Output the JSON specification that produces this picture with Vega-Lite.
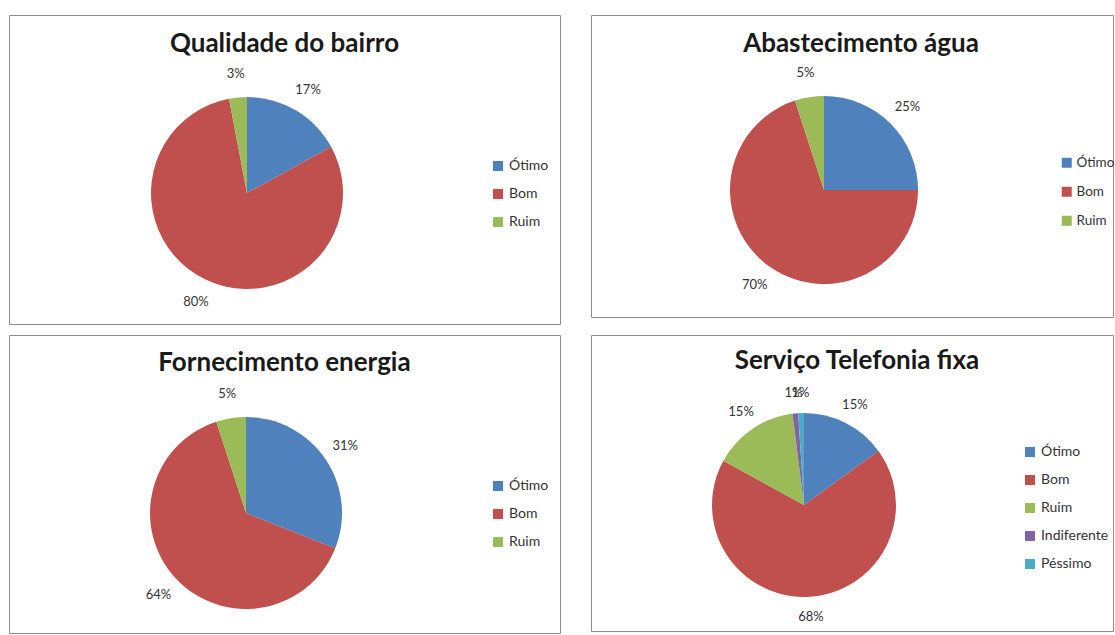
{
  "$schema": "https://vega.github.io/schema/vega-lite/v6.json",
  "background": "white",
  "padding": {"left": 8, "top": 14, "right": 1, "bottom": 0},
  "datasets": {
    "qualidade": [
      {"categoria": "Ótimo", "pct": 0.17, "k": 1},
      {"categoria": "Bom", "pct": 0.80, "k": 2},
      {"categoria": "Ruim", "pct": 0.03, "k": 3}
    ],
    "agua": [
      {"categoria": "Ótimo", "pct": 0.25, "k": 1},
      {"categoria": "Bom", "pct": 0.70, "k": 2},
      {"categoria": "Ruim", "pct": 0.05, "k": 3}
    ],
    "energia": [
      {"categoria": "Ótimo", "pct": 0.31, "k": 1},
      {"categoria": "Bom", "pct": 0.64, "k": 2},
      {"categoria": "Ruim", "pct": 0.05, "k": 3}
    ],
    "telefonia": [
      {"categoria": "Ótimo", "pct": 0.15, "k": 1},
      {"categoria": "Bom", "pct": 0.68, "k": 2},
      {"categoria": "Ruim", "pct": 0.15, "k": 3},
      {"categoria": "Indiferente", "pct": 0.01, "k": 4},
      {"categoria": "Péssimo", "pct": 0.01, "k": 5}
    ]
  },
  "spacing": 9,
  "resolve": {"scale": {"color": "independent", "theta": "independent"}, "legend": {"color": "independent"}},
  "vconcat": [
    {
      "spacing": 29,
      "resolve": {"scale": {"color": "independent", "theta": "independent"}, "legend": {"color": "independent"}},
      "hconcat": [
        {
          "width": 551, "height": 309,
          "view": {"stroke": "#8c8c8c", "strokeWidth": 1},
          "data": {"name": "qualidade"},
          "title": {"text": "Qualidade do bairro", "offset": -42},
          "encoding": {
            "theta": {"field": "pct", "type": "quantitative", "stack": true},
            "order": {"field": "k", "type": "quantitative"},
            "color": {"field": "categoria", "type": "nominal",
              "scale": {"domain": ["Ótimo", "Bom", "Ruim"], "range": ["#4F81BD", "#C0504D", "#9BBB59"]},
              "legend": {"orient": "none", "legendX": 482, "legendY": 144}}
          },
          "layer": [
            {"mark": {"type": "arc", "outerRadius": 96, "x": 238, "y": 178}},
            {"mark": {"type": "text", "radius": 120, "x": 238, "y": 178, "font": "Lato", "fontSize": 13, "fill": "#333333"},
             "encoding": {"text": {"field": "pct", "type": "quantitative", "format": ".0%"}, "color": {"value": "#333333"}}}
          ]
        },
        {
          "width": 522, "height": 302,
          "view": {"stroke": "#8c8c8c", "strokeWidth": 1},
          "data": {"name": "agua"},
          "title": {"text": "Abastecimento água", "offset": -42, "dx": 9},
          "encoding": {
            "theta": {"field": "pct", "type": "quantitative", "stack": true},
            "order": {"field": "k", "type": "quantitative"},
            "color": {"field": "categoria", "type": "nominal",
              "scale": {"domain": ["Ótimo", "Bom", "Ruim"], "range": ["#4F81BD", "#C0504D", "#9BBB59"]},
              "legend": {"orient": "none", "legendX": 469, "legendY": 141, "labelFontSize": 13.5, "labelOffset": 3}}
          },
          "layer": [
            {"mark": {"type": "arc", "outerRadius": 94, "x": 233, "y": 175}},
            {"mark": {"type": "text", "radius": 118, "x": 233, "y": 175, "font": "Lato", "fontSize": 13, "fill": "#333333"},
             "encoding": {"text": {"field": "pct", "type": "quantitative", "format": ".0%"}, "color": {"value": "#333333"}}}
          ]
        }
      ]
    },
    {
      "spacing": 29,
      "resolve": {"scale": {"color": "independent", "theta": "independent"}, "legend": {"color": "independent"}},
      "hconcat": [
        {
          "width": 551, "height": 298,
          "view": {"stroke": "#8c8c8c", "strokeWidth": 1},
          "data": {"name": "energia"},
          "title": {"text": "Fornecimento energia", "offset": -41},
          "encoding": {
            "theta": {"field": "pct", "type": "quantitative", "stack": true},
            "order": {"field": "k", "type": "quantitative"},
            "color": {"field": "categoria", "type": "nominal",
              "scale": {"domain": ["Ótimo", "Bom", "Ruim"], "range": ["#4F81BD", "#C0504D", "#9BBB59"]},
              "legend": {"orient": "none", "legendX": 482, "legendY": 144}}
          },
          "layer": [
            {"mark": {"type": "arc", "outerRadius": 96, "x": 237, "y": 178}},
            {"mark": {"type": "text", "radius": 120, "x": 237, "y": 178, "font": "Lato", "fontSize": 13, "fill": "#333333"},
             "encoding": {"text": {"field": "pct", "type": "quantitative", "format": ".0%"}, "color": {"value": "#333333"}}}
          ]
        },
        {
          "width": 522, "height": 296,
          "view": {"stroke": "#8c8c8c", "strokeWidth": 1},
          "data": {"name": "telefonia"},
          "title": {"text": "Serviço Telefonia fixa", "offset": -39, "dx": 5},
          "encoding": {
            "theta": {"field": "pct", "type": "quantitative", "stack": true},
            "order": {"field": "k", "type": "quantitative"},
            "color": {"field": "categoria", "type": "nominal",
              "scale": {"domain": ["Ótimo", "Bom", "Ruim", "Indiferente", "Péssimo"], "range": ["#4F81BD", "#C0504D", "#9BBB59", "#8064A2", "#4BACC6"]},
              "legend": {"orient": "none", "legendX": 432, "legendY": 110}}
          },
          "layer": [
            {"mark": {"type": "arc", "outerRadius": 92, "x": 213, "y": 170}},
            {"mark": {"type": "text", "radius": 112, "x": 213, "y": 170, "font": "Lato", "fontSize": 13, "fill": "#333333"},
             "encoding": {"text": {"field": "pct", "type": "quantitative", "format": ".0%"}, "color": {"value": "#333333"}}}
          ]
        }
      ]
    }
  ],
  "config": {
    "view": {"stroke": "#8c8c8c", "strokeWidth": 1},
    "title": {"font": "Lato", "fontSize": 26, "fontWeight": "bold", "color": "#1a1a1a", "anchor": "middle", "baseline": "alphabetic"},
    "legend": {"title": null, "padding": 0, "symbolType": "square", "symbolSize": 100, "symbolStrokeWidth": 0, "labelFont": "Lato", "labelFontSize": 14, "labelColor": "#333333", "rowPadding": 14, "labelOffset": 4}
  }
}
